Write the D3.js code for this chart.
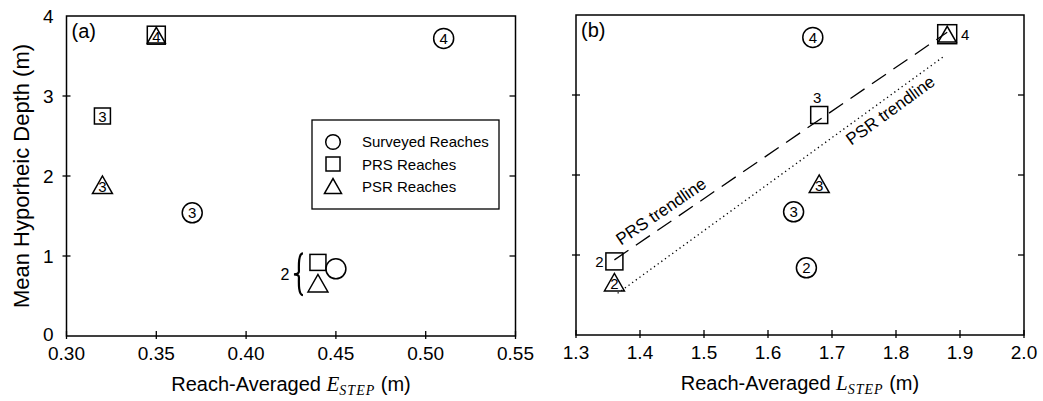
<!doctype html>
<html lang="en">
<head>
<meta charset="utf-8">
<title>Hyporheic depth vs step geometry</title>
<script src="https://cdn.jsdelivr.net/npm/d3@7"></script>
<style>
  body { margin: 0; background: #fff; }
  svg { font-family: "Liberation Sans", Arial, sans-serif; }
</style>
</head>
<body>
<script>
// reach numbers for each point
var reaches = ["2", "3", "4"];

// mean hyporheic depth (m)
var depthSurveyed = [0.84, 1.54, 3.72];
var depthPRS = [0.92, 2.75, 3.76];
var depthPSR = [0.66, 1.89, 3.76];

// panel (a): reach-averaged E_STEP (m)
var estepSurveyed = [0.45, 0.37, 0.51];
var estepPRS = [0.44, 0.32, 0.35];
var estepPSR = [0.44, 0.32, 0.35];

// panel (b): reach-averaged L_STEP (m)
var lstepSurveyed = [1.66, 1.64, 1.67];
var lstepPRS = [1.36, 1.68, 1.88];
var lstepPSR = [1.36, 1.68, 1.88];

// trendlines in panel (b): [x0, x1], slope, intercept
var prsTrend = {x: [1.36, 1.88], slope: 5.47, icpt: -6.50};
var psrTrend = {x: [1.365, 1.875], slope: 5.81, icpt: -7.41};

var xTicksA = [0.30, 0.35, 0.40, 0.45, 0.50, 0.55];
var xTicksB = [1.3, 1.4, 1.5, 1.6, 1.7, 1.8, 1.9, 2.0];
var yTicks = [0, 1, 2, 3, 4];

var svgW = 1043, svgH = 401;
var svg = d3.select("body").append("svg")
    .attr("width", svgW)
    .attr("height", svgH);

function drawPanel(p) {
    var x = d3.scaleLinear().domain(p.xDomain).range([p.left, p.right]);
    var y = d3.scaleLinear().domain([0, 4]).range([p.bottom, p.top]);
    var g = svg.append("g");

    // frame
    g.append("rect")
     .attr("x", p.left).attr("y", p.top)
     .attr("width", p.right - p.left).attr("height", p.bottom - p.top)
     .attr("fill", "none").attr("stroke", "#000").attr("stroke-width", 1.5);

    // ticks
    g.selectAll(".xt").data(p.xTicks).enter().append("line")
     .attr("x1", d => x(d)).attr("x2", d => x(d))
     .attr("y1", p.bottom + 3).attr("y2", p.bottom - 5)
     .attr("stroke", "#000").attr("stroke-width", 1.3);
    g.selectAll(".ytl").data(yTicks.slice(1, 4)).enter().append("line")
     .attr("x1", p.left - 4).attr("x2", p.left + 4)
     .attr("y1", d => y(d)).attr("y2", d => y(d))
     .attr("stroke", "#000").attr("stroke-width", 1.3);
    g.selectAll(".ytr").data(yTicks.slice(1, 4)).enter().append("line")
     .attr("x1", p.right - 6).attr("x2", p.right)
     .attr("y1", d => y(d)).attr("y2", d => y(d))
     .attr("stroke", "#000").attr("stroke-width", 1.3);

    g.selectAll(".xl").data(p.xTicks).enter().append("text")
     .attr("x", d => x(d)).attr("y", p.bottom + 24)
     .attr("text-anchor", "middle").attr("font-size", 19)
     .text(d => p.fmt(d));

    if (p.yLabels) {
        g.selectAll(".yl").data(yTicks).enter().append("text")
         .attr("x", p.left - 13).attr("y", d => y(d) + (d === 0 ? 5 : 7))
         .attr("text-anchor", "end").attr("font-size", 19)
         .text(d => d);
    }

    // x title
    var t = g.append("text")
     .attr("x", (p.left + p.right) / 2).attr("y", p.bottom + 55)
     .attr("text-anchor", "middle").attr("font-size", 20);
    t.append("tspan").text("Reach-Averaged ");
    t.append("tspan").attr("font-family", "Liberation Serif, serif")
     .attr("font-style", "italic").attr("font-size", 21).text(p.sym);
    t.append("tspan").attr("font-family", "Liberation Serif, serif")
     .attr("font-style", "italic").attr("font-size", 14).attr("letter-spacing", 1)
     .attr("dy", 4).text("STEP");
    t.append("tspan").attr("dy", -4).text(" (m)");

    g.append("text").attr("x", p.left + 5).attr("y", p.top + 22)
     .attr("font-size", 20).text(p.tag);

    return {g: g, x: x, y: y};
}

function circle(g, cx, cy, r) {
    g.append("circle").attr("cx", cx).attr("cy", cy).attr("r", r)
     .attr("fill", "#fff").attr("stroke", "#000").attr("stroke-width", 1.5);
}
function square(g, cx, cy, s) {
    g.append("rect").attr("x", cx - s / 2).attr("y", cy - s / 2)
     .attr("width", s).attr("height", s)
     .attr("fill", "none").attr("stroke", "#000").attr("stroke-width", 1.5);
}
function triangle(g, cx, cy, w) {
    var h = w * 0.88;
    g.append("path")
     .attr("d", "M" + (cx - w / 2) + "," + (cy + h / 2) + "L" + cx + "," + (cy - h / 2) +
           "L" + (cx + w / 2) + "," + (cy + h / 2) + "Z")
     .attr("fill", "none").attr("stroke", "#000").attr("stroke-width", 1.5);
}
function label(g, tx, ty, s, size) {
    g.append("text").attr("x", tx).attr("y", ty)
     .attr("text-anchor", "middle").attr("font-size", size || 15).text(s);
}

// ---------- panel (a)
var A = drawPanel({left: 66.5, right: 515.5, top: 16, bottom: 336,
    xDomain: [0.30, 0.55], xTicks: xTicksA, fmt: d3.format(".2f"),
    yLabels: true, sym: "E", tag: "(a)"});

reaches.forEach(function(r, i) {
    var cx = A.x(estepSurveyed[i]), cy = A.y(depthSurveyed[i]);
    circle(A.g, cx, cy, 10);
    if (r !== "2") label(A.g, cx, cy + 5.5, r, 15);
});
reaches.forEach(function(r, i) {
    var cx = A.x(estepPRS[i]), cy = A.y(depthPRS[i]);
    square(A.g, cx, cy, r === "4" ? 18 : 16);
    if (r === "3") label(A.g, cx, cy + 5.5, r, 15);
});
reaches.forEach(function(r, i) {
    var cx = A.x(estepPSR[i]), cy = A.y(depthPSR[i]);
    triangle(A.g, cx, cy, r === "4" ? 18 : 20);
    if (r !== "2") label(A.g, cx, cy + 7, r, 15);
});

// brace for reach 2
var bx = A.x(estepPRS[0]) - 20, by0 = A.y(depthPRS[0]) - 9, by1 = A.y(depthPSR[0]) + 12;
var bm = (by0 + by1) / 2;
A.g.append("path")
 .attr("d", "M" + (bx + 5) + "," + by0 + " C" + (bx) + "," + by0 + " " + (bx + 1) + "," + (bm - 6) +
       " " + (bx + 1) + "," + (bm - 3) + " C" + (bx + 1) + "," + bm + " " + (bx - 3) + "," + bm +
       " " + (bx - 4) + "," + bm + " C" + (bx - 3) + "," + bm + " " + (bx + 1) + "," + bm +
       " " + (bx + 1) + "," + (bm + 3) + " C" + (bx + 1) + "," + (bm + 6) + " " + bx + "," + by1 +
       " " + (bx + 5) + "," + by1)
 .attr("fill", "none").attr("stroke", "#000").attr("stroke-width", 2.2);
label(A.g, bx - 13, bm + 6, "2", 16);

// legend
var lg = A.g.append("g").attr("transform", "translate(312,120)");
lg.append("rect").attr("width", 187).attr("height", 89)
  .attr("fill", "#fff").attr("stroke", "#000").attr("stroke-width", 1.3);
var legItems = ["Surveyed Reaches", "PRS Reaches", "PSR Reaches"];
circle(lg, 21, 22, 7.3);
square(lg, 21, 44, 14);
triangle(lg, 21, 66, 17);
legItems.forEach(function(s, i) {
    lg.append("text").attr("x", 50).attr("y", 27 + i * 22.5)
      .attr("font-size", 15).text(s);
});

// y title
svg.append("text")
   .attr("transform", "translate(29,176) rotate(-90)")
   .attr("text-anchor", "middle").attr("font-size", 22)
   .text("Mean Hyporheic Depth (m)");

// ---------- panel (b)
var B = drawPanel({left: 576, right: 1024, top: 15, bottom: 335,
    xDomain: [1.3, 2.0], xTicks: xTicksB, fmt: d3.format(".1f"),
    yLabels: false, sym: "L", tag: "(b)"});

// trendlines
function trendLine(tr, dash) {
    B.g.append("line")
     .attr("x1", B.x(tr.x[0])).attr("y1", B.y(tr.slope * tr.x[0] + tr.icpt))
     .attr("x2", B.x(tr.x[1])).attr("y2", B.y(tr.slope * tr.x[1] + tr.icpt))
     .attr("stroke", "#000").attr("stroke-width", 1.3)
     .attr("stroke-dasharray", dash);
}
trendLine(prsTrend, "17,9");
trendLine(psrTrend, "1.3,3.2");

function trendText(tr, xv, off, s) {
    var px = B.x(xv), py = B.y(tr.slope * xv + tr.icpt);
    var ang = Math.atan2(B.y(tr.slope * (xv + 0.1) + tr.icpt) - py, B.x(xv + 0.1) - px) * 180 / Math.PI;
    B.g.append("text")
     .attr("transform", "translate(" + px + "," + py + ") rotate(" + ang + ") translate(0," + off + ")")
     .attr("text-anchor", "middle").attr("font-size", 17).text(s);
}
trendText(prsTrend, 1.445, -8, "PRS trendline");
trendText(psrTrend, 1.78, 18, "PSR trendline");

reaches.forEach(function(r, i) {
    var cx = B.x(lstepSurveyed[i]), cy = B.y(depthSurveyed[i]);
    circle(B.g, cx, cy, 10);
    label(B.g, cx, cy + 5.5, r, 15);
});
reaches.forEach(function(r, i) {
    var cx = B.x(lstepPSR[i]), cy = B.y(depthPSR[i]);
    triangle(B.g, cx, cy, r === "4" ? 18 : 20);
    if (r !== "4") label(B.g, cx, cy + 7, r, 15);
});
reaches.forEach(function(r, i) {
    var cx = B.x(lstepPRS[i]), cy = B.y(depthPRS[i]);
    square(B.g, cx, cy, r === "4" ? 19 : 17);
    if (r === "2") label(B.g, cx - 15, cy + 5.5, r, 15);
    if (r === "3") label(B.g, cx - 2, cy - 12, r, 15);
    if (r === "4") label(B.g, cx + 18, cy + 5.5, r, 15);
});
</script>
</body>
</html>
